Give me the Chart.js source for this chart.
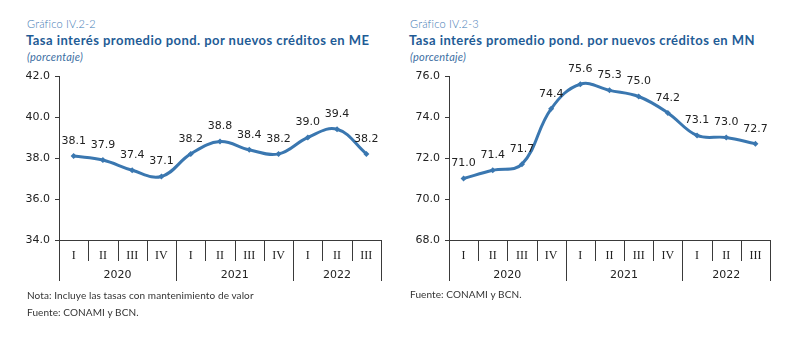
<!DOCTYPE html>
<html>
<head>
<meta charset="utf-8">
<script src="https://cdn.jsdelivr.net/npm/chart.js@4/dist/chart.umd.min.js"></script>
<style>
  body { margin: 0; background: #fff; width: 793px; height: 341px; position: relative; overflow: hidden; font-family: "Lato", sans-serif; }
  .txt { position: absolute; white-space: nowrap; }
  .num { font-size: 11px; color: #3d79b3; line-height: 12px; font-weight: 300; letter-spacing: 0.2px; }
  .tit { font-size: 13px; color: #1f5c96; font-weight: bold; line-height: 16px; letter-spacing: 0.45px; }
  .unit { font-size: 11px; color: #3d6fa3; font-style: italic; line-height: 12px; letter-spacing: 0.2px; }
  .foot { font-size: 10px; color: #333; line-height: 11px; letter-spacing: 0.1px; }
  .box { position: absolute; top: 60px; height: 240px; }
</style>
</head>
<body>
<div class="txt num" style="left:27px;top:18px">Gráfico IV.2-2</div>
<div class="txt tit" style="left:26px;top:32px">Tasa interés promedio pond. por nuevos créditos en ME</div>
<div class="txt unit" style="left:27px;top:51px">(porcentaje)</div>

<div class="txt num" style="left:410px;top:18px">Gráfico IV.2-3</div>
<div class="txt tit" style="left:409px;top:32px">Tasa interés promedio pond. por nuevos créditos en MN</div>
<div class="txt unit" style="left:410px;top:51px">(porcentaje)</div>

<div class="box" style="left:0;width:400px"><canvas id="chartME"></canvas></div>
<div class="box" style="left:400px;width:393px"><canvas id="chartMN"></canvas></div>

<div class="txt foot" style="left:27px;top:290px">Nota: Incluye las tasas con mantenimiento de valor</div>
<div class="txt foot" style="left:27px;top:307px">Fuente: CONAMI y BCN.</div>
<div class="txt foot" style="left:410px;top:289px">Fuente: CONAMI y BCN.</div>

<script>
var quarters = ['I', 'II', 'III', 'IV', 'I', 'II', 'III', 'IV', 'I', 'II', 'III'];
var years = ['2020', '2021', '2022'];
var quartersPerYear = [4, 4, 3];
var valuesME = [38.1, 37.9, 37.4, 37.1, 38.2, 38.8, 38.4, 38.2, 39.0, 39.4, 38.2];
var valuesMN = [71.0, 71.4, 71.7, 74.4, 75.6, 75.3, 75.0, 74.2, 73.1, 73.0, 72.7];
var yTicksME = [34, 36, 38, 40, 42];
var yTicksMN = [68, 70, 72, 74, 76];

var lineColor = '#3a77b0';
var axisColor = '#3a3a3a';

// draws the numbers on top of each point
var valueLabels = {
  id: 'valueLabels',
  afterDatasetsDraw: function (chart) {
    var ctx = chart.ctx;
    var meta = chart.getDatasetMeta(0);
    var data = chart.data.datasets[0].data;
    ctx.save();
    ctx.font = '11px "DejaVu Sans"';
    ctx.fillStyle = '#222';
    ctx.textAlign = 'center';
    ctx.textBaseline = 'middle';
    meta.data.forEach(function (pt, i) {
      ctx.fillText(data[i].toFixed(1), pt.x, pt.y - 15);
    });
    ctx.restore();
  }
};

// quarter separators, year row and the axis extension below
var yearAxis = {
  id: 'yearAxis',
  afterDraw: function (chart) {
    var ctx = chart.ctx;
    var x = chart.scales.x;
    var area = chart.chartArea;
    var half = (x.getPixelForValue(1) - x.getPixelForValue(0)) / 2;
    var bottom = area.bottom + 41;
    ctx.save();
    ctx.strokeStyle = axisColor;
    ctx.lineWidth = 1;
    // quarter separators
    for (var i = 1; i < quarters.length; i++) {
      var sx = Math.round(x.getPixelForValue(i) - half) + 0.5;
      ctx.beginPath();
      ctx.moveTo(sx, area.bottom);
      ctx.lineTo(sx, area.bottom + 21);
      ctx.stroke();
    }
    // year boundaries
    var start = 0;
    ctx.font = '11px "DejaVu Sans"';
    ctx.fillStyle = '#222';
    ctx.textAlign = 'center';
    ctx.textBaseline = 'middle';
    for (var j = 0; j <= years.length; j++) {
      var bx = Math.round(x.getPixelForValue(start) - half) + 0.5;
      ctx.beginPath();
      ctx.moveTo(bx, area.bottom);
      ctx.lineTo(bx, bottom);
      ctx.stroke();
      if (j < years.length) {
        var end = start + quartersPerYear[j] - 1;
        var cx = (x.getPixelForValue(start) + x.getPixelForValue(end)) / 2;
        ctx.fillText(years[j], cx, area.bottom + 35);
        start = end + 1;
      }
    }
    ctx.restore();
  }
};

function makeChart(id, values, yTicks, yWidth, padRight) {
  var ctx = document.getElementById(id).getContext('2d');
  return new Chart(ctx, {
    type: 'line',
    data: {
      labels: quarters,
      datasets: [{
        data: values,
        borderColor: lineColor,
        backgroundColor: lineColor,
        borderWidth: 3,
        tension: 0.4,
        pointStyle: 'rectRot',
        pointRadius: 3,
        pointBorderWidth: 0
      }]
    },
    options: {
      responsive: true,
      maintainAspectRatio: false,
      animation: false,
      layout: { padding: { top: 16, right: padRight, bottom: 19, left: 0 } },
      plugins: { legend: { display: false }, tooltip: { enabled: false } },
      scales: {
        x: {
          offset: true,
          grid: { display: false, drawTicks: false },
          border: { display: true, color: axisColor, width: 1 },
          ticks: { color: '#222', font: { family: 'Liberation Serif', size: 12 }, padding: 9, maxRotation: 0, autoSkip: false },
          afterFit: function (scale) { scale.height = 41; }
        },
        y: {
          min: yTicks[0],
          max: yTicks[yTicks.length - 1],
          grid: { drawOnChartArea: false, tickLength: 4, color: axisColor },
          border: { display: true, color: axisColor, width: 1 },
          ticks: {
            stepSize: yTicks[1] - yTicks[0],
            color: '#222',
            padding: 5,
            font: { family: 'DejaVu Sans', size: 11 },
            callback: function (v) { return v.toFixed(1); }
          },
          afterFit: function (scale) { scale.width = yWidth; }
        }
      }
    },
    plugins: [valueLabels, yearAxis]
  });
}

makeChart('chartME', valuesME, yTicksME, 59, 19);
makeChart('chartMN', valuesMN, yTicksMN, 49, 23);
</script>
</body>
</html>
